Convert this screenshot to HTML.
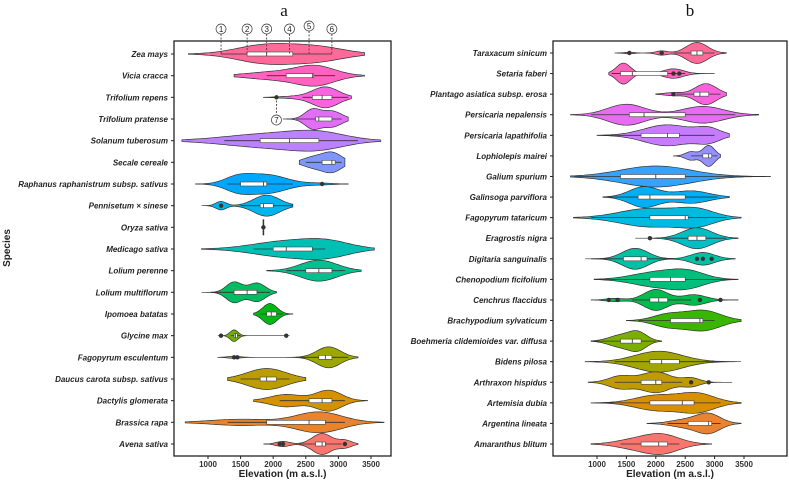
<!DOCTYPE html>
<html><head><meta charset="utf-8"><style>
body{margin:0;background:#fff;}
svg{display:block;font-family:"Liberation Sans",sans-serif;}
</style></head><body>
<svg id="chart" width="789" height="482" viewBox="0 0 789 482"></svg>
<script>
// ---- Panel a data (top to bottom) ----
const speciesA=["Zea mays","Vicia cracca","Trifolium repens","Trifolium pratense","Solanum tuberosum","Secale cereale","Raphanus raphanistrum subsp. sativus","Pennisetum × sinese","Oryza sativa","Medicago sativa","Lolium perenne","Lolium multiflorum","Ipomoea batatas","Glycine max","Fagopyrum esculentum","Daucus carota subsp. sativus","Dactylis glomerata","Brassica rapa","Avena sativa"];
const rangeA=[[700,3400],[1400,3400],[1850,3200],[2150,3150],[600,3650],[2400,3100],[800,3150],[900,2300],[1850,1850],[900,3550],[1900,3350],[900,2050],[1700,2300],[1150,2250],[1150,3300],[1300,2500],[1700,3450],[650,3700],[1850,3300]];
const boxA=[[1600,1900,2300],[2200,2600,2620],[2600,2750,2900],[2650,2700,2900],[1800,2250,2700],[2750,2900,2950],[1500,1850,1900],[1800,1850,2000],[1850,1850,1850],[2000,2200,2600],[2500,2700,2900],[1400,1600,1750],[1900,1970,2050],[1400,1420,1450],[2700,2800,2900],[1800,1900,2050],[2550,2750,2900],[1900,2550,2800],[2650,2750,2800]];
const whiskA=[[1200,2900],[1900,2950],[2450,3150],[2350,3050],[1250,3300],[2500,3050],[1300,2300],[1500,2300],[1850,1850],[1700,2800],[2200,3100],[1050,1950],[1800,2150],[1350,1500],[2400,3150],[1500,2250],[2100,3100],[1300,3100],[2400,3050]];
const outA=[[],[],[2050],[],[],[],[2750],[1200],[1850],[],[],[],[],[1200,2200],[1400,1450],[],[],[],[2100,2150,3100]];
const peaksA=[[[1900,1,450],[2700,0.7,400]],[[2650,1,300],[2000,0.4,400]],[[2800,1,200],[2300,0.1,200]],[[2600,1,120],[2900,0.85,150]],[[2000,1,700],[2700,0.8,400]],[[2900,1,150],[2600,0.5,150]],[[1900,1,300],[1450,0.7,200],[2700,0.1,200]],[[1200,0.4,80],[1900,1,200]],[[1850,1,20]],[[2200,1,500],[2850,0.8,350]],[[2700,1,280]],[[1400,1,120],[1750,0.9,130]],[[1950,1,110]],[[1400,1,60]],[[2850,1,180],[1400,0.1,100]],[[1900,1,300]],[[2850,1,200],[2200,0.6,250]],[[2700,1,350],[1500,0.3,450]],[[2750,1,150],[2150,0.25,100],[3100,0.35,100]]];
const ampA=[1,1,1,1,1,1,1,1,0.2,1,1,1,1,0.55,1,1,1,1,1];
// ---- Panel b data ----
const speciesB=["Taraxacum sinicum","Setaria faberi","Plantago asiatica subsp. erosa","Persicaria nepalensis","Persicaria lapathifolia","Lophiolepis mairei","Galium spurium","Galinsoga parviflora","Fagopyrum tataricum","Eragrostis nigra","Digitaria sanguinalis","Chenopodium ficifolium","Cenchrus flaccidus","Brachypodium sylvaticum","Boehmeria clidemioides var. diffusa","Bidens pilosa","Arthraxon hispidus","Artemisia dubia","Argentina lineata","Amaranthus blitum"];
const rangeB=[[1300,3200],[1200,3000],[2000,3200],[550,3750],[1000,3250],[2300,3100],[550,3950],[1100,3250],[600,3450],[1650,3400],[800,3350],[950,3400],[900,3400],[1500,3450],[900,2100],[800,3450],[850,3300],[900,3450],[1850,3450],[900,2950]];
const boxB=[[2600,2700,2800],[1400,1600,2200],[2650,2750,2900],[1550,1800,2500],[1750,2200,2400],[2800,2900,2950],[1400,2000,2500],[1700,1900,2500],[1900,2500,2550],[2550,2700,2850],[1450,1750,1850],[1900,2250,2500],[1900,2050,2200],[2250,2750,2800],[1400,1600,1750],[1900,2100,2400],[1750,2000,2100],[1900,2450,2650],[2550,2900,2950],[1750,2050,2200]];
const whiskB=[[2300,3000],[1250,2500],[2350,3100],[900,3350],[1100,3000],[2600,3050],[600,3500],[1200,3050],[900,3200],[2150,3200],[900,2300],[1000,3300],[1600,2600],[1700,3000],[900,2000],[1300,3100],[1300,2450],[900,3100],[2200,3100],[1400,2400]];
const outB=[[1550,2100],[2300,2400],[2300],[],[],[],[],[],[],[1900],[2700,2800,2950],[],[1200,1350,2750,3100],[],[],[],[2600,2900],[],[],[]];
const peaksB=[[[2700,1,180],[2100,0.2,100],[1550,0.08,80]],[[1450,1,120],[2300,0.45,170]],[[2850,1,180],[2300,0.15,150]],[[1500,1,320],[2800,0.8,350]],[[2200,1,400],[2900,0.6,200]],[[2900,1,100],[2600,0.4,100]],[[2000,1,600]],[[1800,1,250],[2600,0.6,300]],[[1900,1,500],[2700,0.8,300]],[[2700,1,250]],[[1650,1,220],[2800,0.6,200]],[[2000,1,400],[2550,1,300]],[[2000,1,200],[2650,0.5,200],[1300,0.15,150]],[[2800,1,300],[2200,0.6,250]],[[1700,1,150],[1400,0.7,200]],[[2050,1,400]],[[2000,1,250],[1400,0.6,200],[2600,0.4,150]],[[2700,1,300],[2000,0.8,350]],[[2900,1,200],[2500,0.4,250]],[[2100,1,300],[1600,0.4,300]]];
const ticks=[1000,1500,2000,2500,3000,3500];

const NS="http://www.w3.org/2000/svg";
const svg=document.getElementById('chart');
function mk(tag,attrs,parent){const e=document.createElementNS(NS,tag);for(const k in attrs)e.setAttribute(k,attrs[k]);(parent||svg).appendChild(e);return e;}
function hcl(h,c,l){
  const hr=h*Math.PI/180,u=c*Math.cos(hr),v=c*Math.sin(hr);
  const Y=Math.pow((l+16)/116,3),un=0.19784,vn=0.46834;
  const up=u/(13*l)+un,vp=v/(13*l)+vn;
  const X=Y*9*up/(4*vp),Z=Y*(12-3*up-20*vp)/(4*vp);
  let r=3.2406*X-1.5372*Y-0.4986*Z,g=-0.9689*X+1.8758*Y+0.0415*Z,b=0.0557*X-0.2040*Y+1.0570*Z;
  const gm=x=>{x=x<=0.0031308?12.92*x:1.055*Math.pow(x,1/2.4)-0.055;return Math.round(Math.max(0,Math.min(1,x))*255);};
  return `rgb(${gm(r)},${gm(g)},${gm(b)})`;
}
function panel(cfg){
  const {sp,rng,box,wh,out,pk,amp,x0,x1,y0,y1,xv0,xv1,rowTop,rowBot,labelX,name}=cfg;
  const g=mk('g',{});
  
  
  const xs=v=>xv0+(v-1000)*(xv1-xv0)/2500;
  const n=sp.length,step=(rowBot-rowTop)/(n-1);
  ticks.forEach(t=>{
    mk('line',{x1:xs(t),x2:xs(t),y1:y1,y2:y1+3,stroke:'#222','stroke-width':1},g);
    const tl=mk('text',{x:xs(t),y:y1+11,'text-anchor':'middle','font-size':8,'font-weight':'bold',fill:'#333'},g);
    tl.textContent=t;
    
    
  });
  for(let i=0;i<n;i++){
    const y=rowTop+i*step;
    const col=hcl(15+360*(n-1-i)/n,100,65);
    const vg=mk('g',{},g);
    
    
    mk('line',{x1:x0,x2:x0-3,y1:y,y2:y,stroke:'#222'},g);
    const lb=mk('text',{x:labelX,y:y+3,'text-anchor':'end','font-size':8,'font-weight':'bold','font-style':'italic',fill:'#222'},g);
    lb.textContent=sp[i];
    
    
    const [mn,mx]=rng[i];
    const hmax=10.5*amp[i];
    if(mx-mn<1){
      mk('line',{x1:xs(mn),x2:xs(mn),y1:y-8,y2:y+8,stroke:'#333','stroke-width':1.5},vg);
    } else {
      const N=60,dens=[];
      for(let k=0;k<=N;k++){const v=mn+(mx-mn)*k/N;let d=0;pk[i].forEach(p=>{d+=p[1]*Math.exp(-0.5*Math.pow((v-p[0])/p[2],2));});dens.push([v,d]);}
      const dm=Math.max(...dens.map(d=>d[1]));
      let top=[],bot=[];
      dens.forEach(([v,d])=>{const h=d/dm*hmax;top.push(`${xs(v).toFixed(1)},${(y-h).toFixed(1)}`);bot.unshift(`${xs(v).toFixed(1)},${(y+h).toFixed(1)}`);});
      mk('polygon',{points:top.concat(bot).join(' '),fill:col,stroke:'#333','stroke-width':0.7},vg);
    }
    mk('line',{x1:xs(wh[i][0]),x2:xs(wh[i][1]),y1:y,y2:y,stroke:'#333','stroke-width':0.8},vg);
    const [q1,md,q3]=box[i];
    if(q3>q1){
      mk('rect',{x:xs(q1),y:y-2,width:xs(q3)-xs(q1),height:4,fill:'#fff',stroke:'#444','stroke-width':0.6},vg);
      mk('line',{x1:xs(md),x2:xs(md),y1:y-2,y2:y+2,stroke:'#333','stroke-width':0.8},vg);
    }
    out[i].forEach(o=>mk('circle',{cx:xs(o),cy:y,r:2.2,fill:'#333'},vg));
  }
  mk('rect',{x:x0,y:y0,width:x1-x0,height:y1-y0,fill:'none',stroke:'#222','stroke-width':1.3},g);
  const xt=mk('text',{x:(x0+x1)/2,y:477,'text-anchor':'middle','font-size':10,'font-weight':'bold',fill:'#222'},g);
  xt.textContent='Elevation (m a.s.l.)';
  
  
  return {xs,step,rowTop};
}
const A=panel({name:'panel-a',sp:speciesA,rng:rangeA,box:boxA,wh:whiskA,out:outA,pk:peaksA,amp:ampA,x0:174,x1:391,y0:41,y1:456,xv0:208,xv1:371,rowTop:54,rowBot:444,labelX:168});
panel({name:'panel-b',sp:speciesB,rng:rangeB,box:boxB,wh:whiskB,out:outB,pk:peaksB,amp:speciesB.map(()=>1),x0:553,x1:787,y0:41,y1:456,xv0:597,xv1:744,rowTop:53,rowBot:444,labelX:547});

const annVals=[1200,1600,1900,2250,2550,2900];
const annY=[29,29,29,29,26,29];
annVals.forEach((v,k)=>{
  const x=A.xs(v);
  mk('line',{x1:x,x2:x,y1:annY[k]+5,y2:54,stroke:'#333','stroke-width':0.8,'stroke-dasharray':'2,1.5'});
  const c=mk('circle',{cx:x,cy:annY[k],r:5,fill:'#fff',stroke:'#333','stroke-width':0.7});
  
  
  const t=mk('text',{x:x,y:annY[k]+3,'text-anchor':'middle','font-size':8,fill:'#222'});
  t.textContent=String(k+1);
});
{
  const x=A.xs(2050);
  mk('line',{x1:x,x2:x,y1:97,y2:115,stroke:'#333','stroke-width':0.8,'stroke-dasharray':'2,1.5'});
  mk('circle',{cx:x,cy:120,r:5,fill:'#fff',stroke:'#333','stroke-width':0.7});
  const t=mk('text',{x:x,y:123,'text-anchor':'middle','font-size':8,fill:'#222'});t.textContent='7';
}
const ta=mk('text',{x:284,y:16,'text-anchor':'middle','font-size':17,'font-family':'Liberation Serif, serif',fill:'#111'});ta.textContent='a';


const tb=mk('text',{x:690,y:16,'text-anchor':'middle','font-size':17,'font-family':'Liberation Serif, serif',fill:'#111'});tb.textContent='b';


const yt=mk('text',{x:0,y:0,transform:'translate(10,248) rotate(-90)','text-anchor':'middle','font-size':10,'font-weight':'bold',fill:'#222'});yt.textContent='Species';


</script>
</body></html>
